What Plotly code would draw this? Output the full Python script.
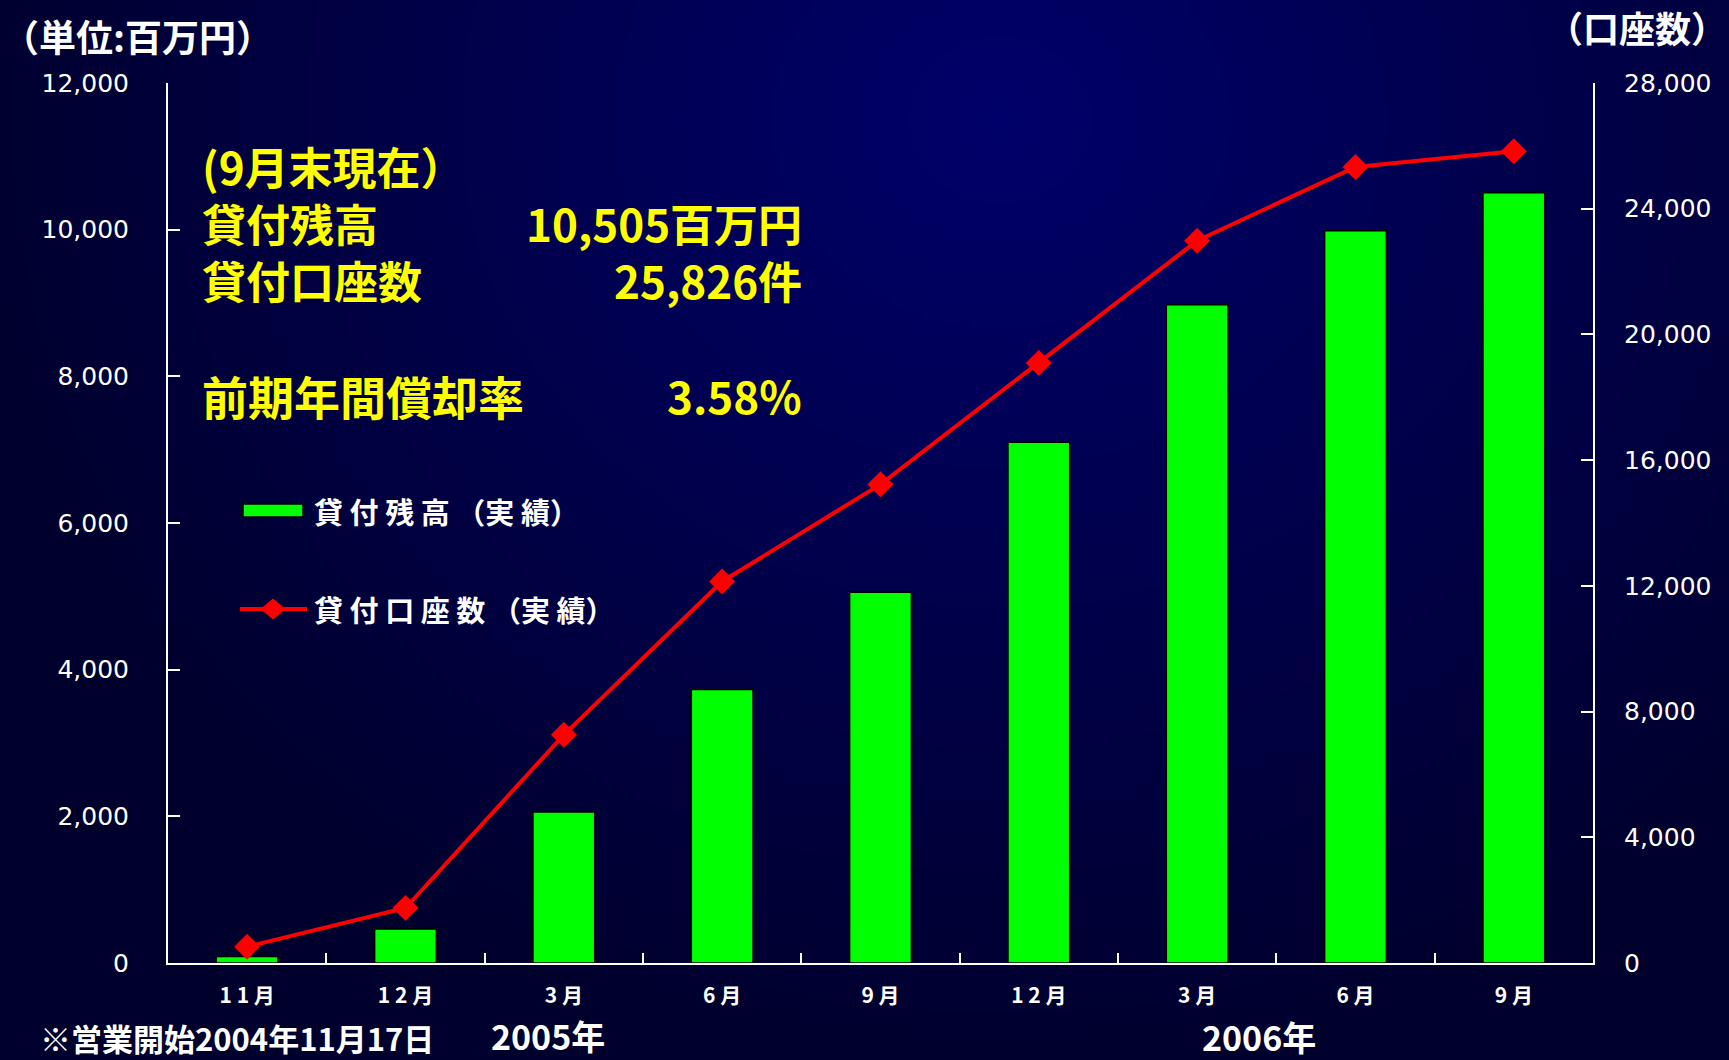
import base64
import struct
import zlib

import numpy as np
import plotly.graph_objects as go

# ---- data -------------------------------------------------------------
periods = ["2004-11", "2004-12", "2005-03", "2005-06", "2005-09",
           "2005-12", "2006-03", "2006-06", "2006-09"]
month_labels = ["11月", "12月", "3月", "6月", "9月", "12月", "3月", "6月", "9月"]
loan_balance = [90, 465, 2060, 3730, 5055, 7100, 8975, 9985, 10505]      # 百万円
loan_accounts = [520, 1750, 7260, 12140, 15230, 19090, 22980, 25330, 25826]  # 件

left_ticks = [0, 2000, 4000, 6000, 8000, 10000, 12000]
right_ticks = [0, 4000, 8000, 12000, 16000, 20000, 24000, 28000]

W, H = 1729, 1060
CJK = "Noto Sans CJK JP"
WHITE = "#ffffff"
YELLOW = "#ffff00"


def px(x):
    return x / W


def py(y):
    return 1 - y / H


# ---- radial navy background as an inline PNG -------------------------
def background_png(w=346, h=212):
    xs = (np.arange(w) + 0.5) * W / w
    ys = (np.arange(h) + 0.5) * H / h
    gx, gy = np.meshgrid(xs, ys)
    d = np.sqrt(((gx - 1000) / 1050) ** 2 + ((gy - 120) / 950) ** 2)
    d = np.clip(d, 0, 1)
    blue = 106 - 61 * d
    img = np.zeros((h, w, 3), dtype=np.uint8)
    img[..., 2] = np.round(blue).astype(np.uint8)
    raw = b"".join(b"\x00" + img[r].tobytes() for r in range(h))

    def chunk(tag, data):
        c = struct.pack(">I", len(data)) + tag + data
        return c + struct.pack(">I", zlib.crc32(tag + data) & 0xFFFFFFFF)

    png = b"\x89PNG\r\n\x1a\n"
    png += chunk(b"IHDR", struct.pack(">IIBBBBB", w, h, 8, 2, 0, 0, 0))
    png += chunk(b"IDAT", zlib.compress(raw, 9))
    png += chunk(b"IEND", b"")
    return "data:image/png;base64," + base64.b64encode(png).decode()


idx = list(range(len(periods)))
spaced = [" ".join(list(lbl[:-1])) + " 月" for lbl in month_labels]

fig = go.Figure()
fig.add_trace(go.Bar(
    x=idx, y=loan_balance, width=0.39,
    marker=dict(color="#00ff00", line=dict(color="#000000", width=1.5)),
    yaxis="y", hovertext=periods, showlegend=False,
))
fig.add_trace(go.Scatter(
    x=idx, y=loan_accounts, mode="lines+markers",
    line=dict(color="#ff0000", width=4),
    marker=dict(symbol="diamond", size=20, color="#ff0000"),
    yaxis="y2", hovertext=periods, showlegend=False,
))

axis_line = dict(showline=True, linecolor=WHITE, linewidth=2,
                 showgrid=False, zeroline=False, automargin=False)

fig.update_layout(
    width=W, height=H,
    margin=dict(l=0, r=0, t=0, b=0, pad=0, autoexpand=False),
    paper_bgcolor="#000030",
    plot_bgcolor="rgba(0,0,0,0)",
    images=[dict(source=background_png(), xref="paper", yref="paper",
                 x=0, y=1, sizex=1, sizey=1, sizing="stretch",
                 layer="below")],
    xaxis=dict(
        **axis_line,
        domain=[px(168), px(1593)],
        range=[-0.5, len(periods) - 0.5],
        tickmode="array", tickvals=idx, ticktext=spaced,
        ticks="", ticklabelstandoff=13,
        tickfont=dict(family=CJK, size=21, color=WHITE, weight="bold"),
        minor=dict(tickvals=[i + 0.5 for i in idx[:-1]], ticks="inside",
                   ticklen=10, tickwidth=2, tickcolor=WHITE),
        fixedrange=True,
    ),
    yaxis=dict(
        **axis_line,
        domain=[py(963), py(83)],
        range=[0, 12000],
        tickmode="array", tickvals=left_ticks, tickformat=",d",
        ticks="inside", ticklen=12, tickwidth=2, tickcolor=WHITE,
        ticklabelstandoff=32,
        tickfont=dict(family="DejaVu Sans", size=25, color=WHITE),
    ),
    yaxis2=dict(
        **axis_line,
        overlaying="y", side="right", anchor="x",
        range=[0, 28000],
        tickmode="array", tickvals=right_ticks, tickformat=",d",
        ticks="inside", ticklen=12, tickwidth=2, tickcolor=WHITE,
        ticklabelstandoff=24,
        tickfont=dict(family="DejaVu Sans", size=25, color=WHITE),
    ),
)


def note(text, x, y, size, color=WHITE, anchor="left", align=None):
    fig.add_annotation(
        text=text, x=px(x), y=py(y), xref="paper", yref="paper",
        xanchor=anchor, yanchor="middle", showarrow=False,
        align=align or ("right" if anchor == "right" else "left"),
        font=dict(family=CJK, size=size, color=color, weight="bold"),
    )


# axis unit captions
note("（単位:百万円）", 0, 36, 37)
note("（口座数）", 1729, 27, 36, anchor="right")

# summary block (lines share one text box so the line pitch is even)
note("(9月末現在）<br>貸付残高<br>貸付口座数", 200, 223, 44, YELLOW)
note("10,505百万円<br>25,826件", 804, 252, 44, YELLOW, anchor="right")
note("前期年間償却率", 200, 395, 46, YELLOW)
note("3.58%", 804, 395, 44, YELLOW, anchor="right")

# hand-drawn legend
fig.add_shape(type="rect", xref="paper", yref="paper",
              x0=px(243), x1=px(303), y0=py(517), y1=py(504),
              fillcolor="#00ff00", line=dict(color="#000000", width=1.5))
fig.add_shape(type="line", xref="paper", yref="paper",
              x0=px(240), x1=px(307), y0=py(609), y1=py(609),
              line=dict(color="#ff0000", width=4))
dx, dy = 12, 10
fig.add_shape(type="path", xref="paper", yref="paper",
              path=(f"M {px(273 - dx)} {py(609)} L {px(273)} {py(609 - dy)} "
                    f"L {px(273 + dx)} {py(609)} L {px(273)} {py(609 + dy)} Z"),
              fillcolor="#ff0000", line=dict(color="#ff0000", width=1))
note("貸 付 残 高 （実 績）", 312, 511, 29)
note("貸 付 口 座 数 （実 績）", 312, 609, 29)

# year captions and footnote
note("※営業開始2004年11月17日", 38, 1037, 31)
note("2005年", 548, 1035, 34, anchor="center")
note("2006年", 1259, 1036, 34, anchor="center")

fig.write_html("out.html")
